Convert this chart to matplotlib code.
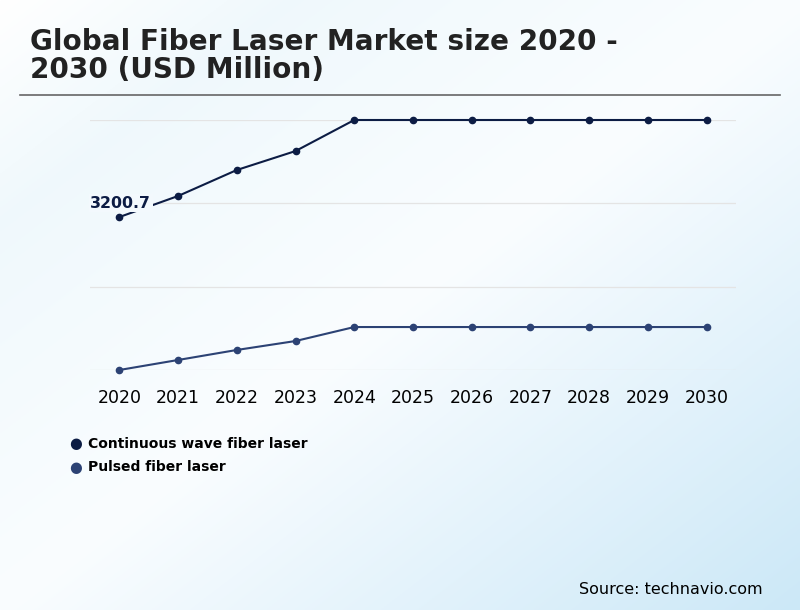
import numpy as np
import matplotlib
matplotlib.use('Agg')
import matplotlib.pyplot as plt

plt.rcParams['font.family'] = ['DejaVu Sans']

years = [2020, 2021, 2022, 2023, 2024, 2025, 2026, 2027, 2028, 2029, 2030]
continuous_wave = [3200.7, 3476, 3816, 4064, 4470, 4470, 4470, 4470, 4470, 4470, 4470]
pulsed = [1200, 1331, 1462, 1579, 1762, 1762, 1762, 1762, 1762, 1762, 1762]
series_names = ['Continuous wave fiber laser', 'Pulsed fiber laser']
series_colors = ['#0c1c44', '#2c4274']
title_lines = ['Global Fiber Laser Market size 2020 -', '2030 (USD Million)']

fig = plt.figure(figsize=(8, 6.1), dpi=100)

# diagonal background gradient: white -> pale blue -> white -> light blue
bg = fig.add_axes([0, 0, 1, 1], zorder=-10)
gx, gy = np.meshgrid(np.linspace(0, 1, 300), np.linspace(0, 1, 300))
s = (gx + gy) / 2
stops = [0.0, 0.18, 0.5, 1.0]
r = np.interp(s, stops, [1.0, 0.94, 0.98, 0.80])
g = np.interp(s, stops, [1.0, 0.975, 0.992, 0.91])
b = np.interp(s, stops, [1.0, 0.99, 1.0, 0.97])
img = np.dstack([r, g, b])
bg.imshow(img, aspect='auto', extent=[0, 1, 0, 1], origin='upper')
bg.axis('off')

for i, line in enumerate(title_lines):
    fig.text(30 / 800, 1 - (50 + i * 28) / 610, line, fontsize=20.1, fontweight='bold',
             color='#222222', va='baseline', ha='left')
fig.add_artist(plt.Line2D([20 / 800, 780 / 800], [1 - 95 / 610, 1 - 95 / 610],
                          color='#666666', lw=1.2))

ax = fig.add_axes([90 / 800, 1 - 370 / 610, 646 / 800, 250 / 610])
ax.patch.set_alpha(0)
for name, vals, col in zip(series_names, [continuous_wave, pulsed], series_colors):
    ax.plot(years, vals, color=col, lw=1.5, marker='o', markersize=4.5,
            clip_on=False, label=name, zorder=3)

ymin = min(pulsed)
ymax = max(continuous_wave)
ax.set_ylim(ymin, ymax)
ax.set_xlim(2019.5, 2030.5)
ax.set_yticks(np.linspace(ymin, ymax, 4))
ax.set_yticklabels([])
ax.set_xticks(years)
ax.set_xticklabels([str(y) for y in years], fontsize=12.5, color='black')
ax.tick_params(axis='both', length=0, pad=14)
ax.grid(axis='y', color='#e4e4e4', lw=0.9)
ax.grid(axis='x', visible=False)
for sp in ax.spines.values():
    sp.set_visible(False)

ax.annotate(f'{continuous_wave[0]}', (years[0], continuous_wave[0]),
            xytext=(23, 10), textcoords='offset points', ha='right', va='center',
            fontsize=11.3, fontweight='bold', color='#0c1c44', zorder=4,
            bbox=dict(boxstyle='square,pad=0.1', fc='#f3f9fd', ec='none'))

for i, (name, col) in enumerate(zip(series_names, series_colors)):
    yy = 1 - (444 + i * 23) / 610
    fig.text(76 / 800, yy, '\u25cf', color=col, fontsize=10.5, ha='center', va='center')
    fig.text(88 / 800, yy, name, color='black', fontsize=10, fontweight='bold',
             ha='left', va='center')

fig.text(763 / 800, 1 - 589 / 610, 'Source: technavio.com', fontsize=11.5,
         color='black', ha='right', va='center')

fig.savefig('out.png', dpi=100)
